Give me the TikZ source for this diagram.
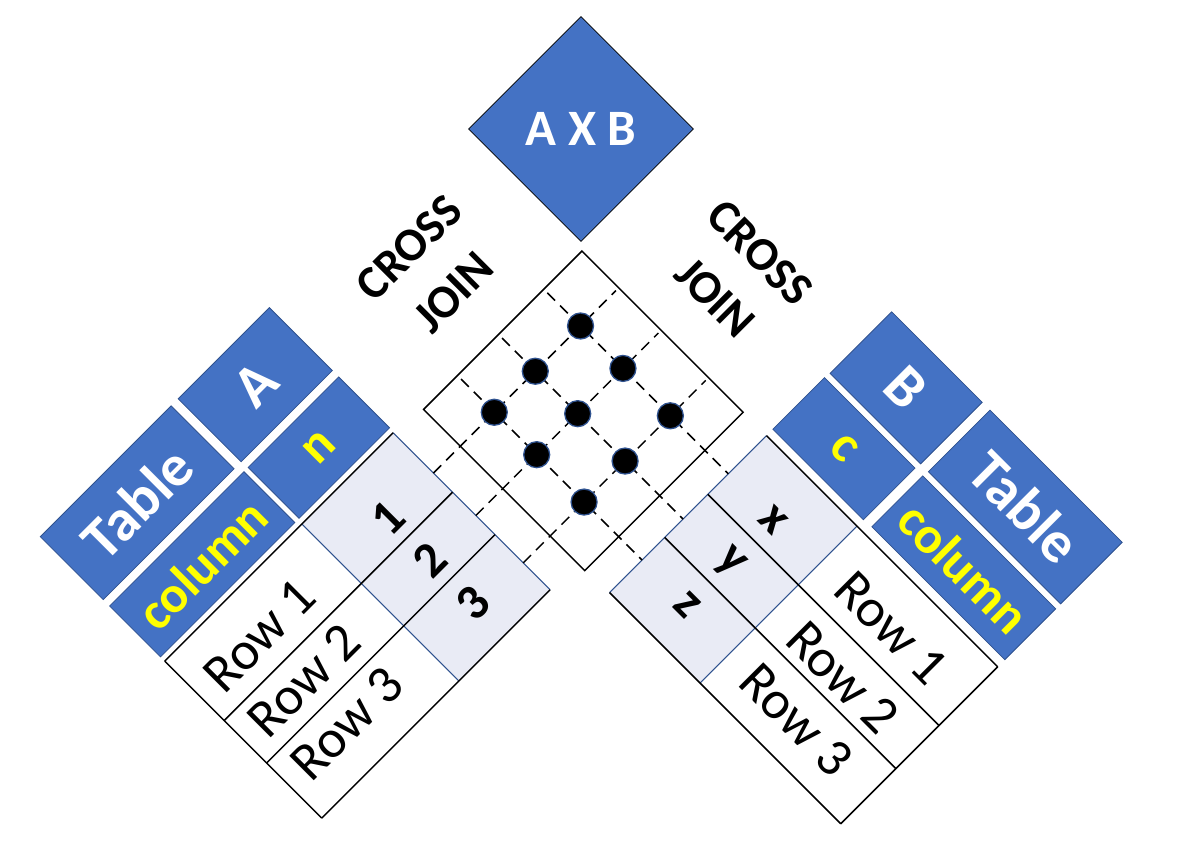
\documentclass[tikz,border=0pt]{standalone}
\usepackage{fontspec}
\setmainfont{Carlito}
\usetikzlibrary{shapes.geometric}
\definecolor{hblue}{HTML}{4472C4}
\definecolor{hedge}{HTML}{2F528F}
\definecolor{shadecol}{HTML}{E9EBF5}
\definecolor{yel}{HTML}{FFFF00}
\begin{document}
\begin{tikzpicture}[x=1pt,y=1pt,
  hdr/.style={draw=hedge, line width=0.8pt, fill=hblue, inner sep=0pt},
  hdrwhite/.style={hdr, text=white, font=\bfseries\fontsize{59}{60}\selectfont},
  hdryel/.style={hdr, text=yel, font=\bfseries\fontsize{52}{55}\selectfont},
  rowtxt/.style={inner sep=0pt, font=\fontsize{54}{58}\selectfont},
  celltxt/.style={inner sep=0pt, font=\bfseries\fontsize{50}{54}\selectfont},
  lbl/.style={inner sep=0pt, align=center, font=\bfseries\fontsize{47}{63}\selectfont},
  tline/.style={line width=1.5pt, black},
  bline/.style={line width=1.1pt, hedge},
  dashline/.style={line width=1.5pt, black, dash pattern=on 11pt off 7pt},
  dot/.style={circle, fill=black, draw=hedge, line width=1.3pt, minimum size=26pt, inner sep=0pt}]
\useasboundingbox (0,0) rectangle (1180,-844);

% top result diamond
\node[diamond, aspect=1, minimum width=225pt, minimum height=225pt, fill=hblue, draw=black,
      line width=0.8pt, inner sep=0pt, text=white, font=\bfseries\fontsize{51}{54}\selectfont]
      (axb) at (581,-129) {A X B};

\begin{scope}[x={(0.70711pt,0.70711pt)}, y={(0.70711pt,-0.70711pt)}]
% ---------- left table (A) ----------
\fill[shadecol] (-157,584) -- (-28,584) -- (-28,806) -- (-157,806) -- cycle;
\draw[bline] (-157,584) -- (-157,806);
\draw[bline] (-28,584) -- (-28,806);
\foreach \b in {584,668,728,806} \draw[tline] (-351,\b) -- (-28,\b);
\draw[tline] (-351,584) -- (-351,806);

\node[hdrwhite, rotate=45, minimum width=185pt, minimum height=89pt] (tabA) at (-258.5,452.5) {Table};
\node[hdrwhite, rotate=45, minimum width=129pt, minimum height=89pt] (nameA) at (-91.5,452.5) {A};
\node[hdryel, rotate=45, minimum width=190pt, minimum height=72pt] (colA) at (-256,542) {column};
\node[hdryel, rotate=45, minimum width=128pt, minimum height=72pt] (colnA) at (-91,542) {n};

\node[rowtxt, rotate=45] (ra1) at (-266,633) {Row 1};
\node[rowtxt, rotate=45] (ra2) at (-266,696) {Row 2};
\node[rowtxt, rotate=45] (ra3) at (-266,757) {Row 3};
\node[celltxt, rotate=45] (va1) at (-92,640) {1};
\node[celltxt, rotate=45] (va2) at (-92,700) {2};
\node[celltxt, rotate=45] (va3) at (-92,761) {3};

% ---------- right table (B) ----------
\fill[shadecol] (12,850) -- (234,850) -- (234,978) -- (12,978) -- cycle;
\draw[bline] (12,850) -- (234,850);
\draw[bline] (12,978) -- (234,978);
\foreach \a in {12,90,151,234} \draw[tline] (\a,850) -- (\a,1177);
\draw[tline] (12,1177) -- (234,1177);

\node[hdrwhite, rotate=-45, minimum width=187pt, minimum height=87pt] (tabB) at (366.5,1083.5) {Table};
\node[hdrwhite, rotate=-45, minimum width=128pt, minimum height=87pt] (nameB) at (366.5,915) {B};
\node[hdryel, rotate=-45, minimum width=188pt, minimum height=72pt] (colB) at (280,1083) {column};
\node[hdryel, rotate=-45, minimum width=128pt, minimum height=73pt] (colnB) at (279.5,914) {c};

\node[rowtxt, rotate=-45] (rb1) at (186,1074) {Row 1};
\node[rowtxt, rotate=-45] (rb2) at (117,1075) {Row 2};
\node[rowtxt, rotate=-45] (rb3) at (54,1072) {Row 3};
\node[celltxt, rotate=-45] (vb1) at (179,914) {x};
\node[celltxt, rotate=-45] (vb2) at (118,914) {y};
\node[celltxt, rotate=-45] (vb3) at (58,913) {z};

% ---------- cross product grid ----------
\coordinate (gl) at (10,589);
\coordinate (gt) at (234,589);
\coordinate (gr) at (234,817);
\coordinate (gb) at (10,817);
\draw[tline] (gl) -- (gt) -- (gr) -- (gb) -- cycle;
\foreach \b [count=\i] in {641,701,768} {
  \coordinate (ds\i) at (-28,\b);
  \coordinate (de\i) at (230,\b);
  \draw[dashline] (ds\i) -- (de\i);
}
\foreach \a [count=\i] in {58,116,180} {
  \coordinate (es\i) at (\a,594);
  \coordinate (ee\i) at (\a,850);
  \draw[dashline] (es\i) -- (ee\i);
}
\foreach \a [count=\i] in {58,116,180}
  \foreach \b [count=\j] in {641,701,768}
    \node[dot] (d\i\j) at (\a,\b) {};

% ---------- labels ----------
\node[lbl, rotate=45] (cjL) at (114,496) {CROSS\\JOIN};
\node[lbl, rotate=-45] (cjR) at (327,716) {CROSS\\JOIN};
\end{scope}
\end{tikzpicture}
\end{document}
